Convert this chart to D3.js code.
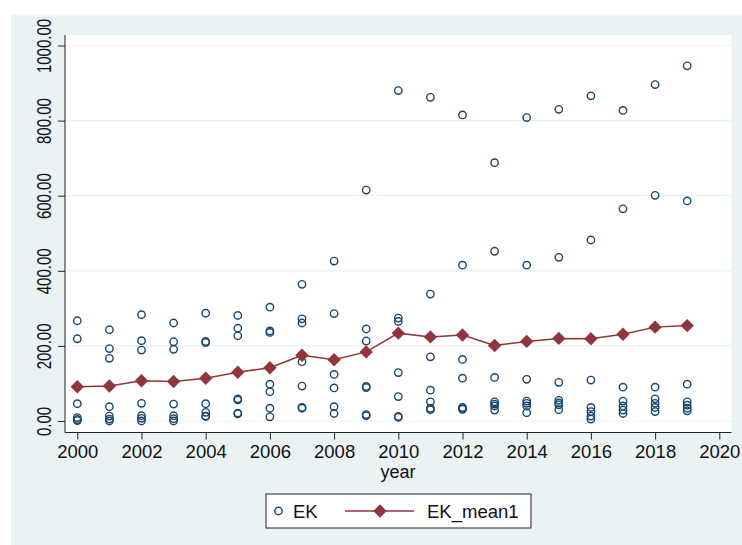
<!DOCTYPE html>
<html lang="en">
<head>
    <meta charset="UTF-8">
    <title>EK by year</title>
    <script src="https://d3js.org/d3.v7.min.js"></script>
    <style>
        body { margin: 0; background: #fff; }
        text { font-family: "Liberation Sans", Arial, Helvetica, sans-serif; fill: #111; }
    </style>
</head>
<body>
<script>
    const width  = 742;
    const height = 545;

    const years = [2000, 2001, 2002, 2003, 2004, 2005, 2006, 2007, 2008, 2009,
                   2010, 2011, 2012, 2013, 2014, 2015, 2016, 2017, 2018, 2019];

    // EK observations, one list per year
    const ekByYear = [
        [267, 219, 46, 9, 4, 1],
        [243, 193, 167, 38, 13, 5, 0],
        [283, 214, 189, 47, 14, 7, 0],
        [261, 211, 191, 45, 14, 6, 0],
        [287, 212, 209, 46, 23, 12, 13],
        [281, 247, 227, 59, 56, 21, 19],
        [303, 240, 236, 98, 78, 34, 11],
        [364, 272, 261, 158, 93, 36, 34],
        [426, 286, 124, 88, 38, 20],
        [615, 245, 213, 92, 89, 17, 14],
        [880, 274, 265, 129, 65, 12, 10],
        [862, 338, 171, 82, 51, 34, 30],
        [815, 415, 164, 114, 36, 33, 31],
        [688, 452, 116, 51, 45, 40, 29],
        [808, 415, 111, 53, 47, 40, 22],
        [830, 436, 103, 55, 48, 43, 30],
        [866, 482, 109, 36, 25, 13, 5],
        [827, 565, 90, 53, 40, 29, 20],
        [896, 601, 90, 59, 47, 36, 25],
        [946, 586, 98, 51, 42, 34, 27]
    ];

    const ekMean1 = [91, 93, 107, 105, 114, 130, 142, 175, 163, 184,
                     234, 224, 229, 201, 212, 220, 219, 231, 250, 254];

    const xTicks = d3.range(2000, 2021, 2);
    const yTicks = [0, 200, 400, 600, 800, 1000];

    const blue = "#1a476f";
    const red  = "#90353b";
    const bg   = "#eaf2f3";

    const plot = {left: 65, right: 731.5, top: 35, bottom: 432.5};

    const x = d3.scaleLinear().domain([2000, 2020]).range([77.3, 719.3]);
    const y = d3.scaleLinear().domain([0, 1000]).range([421, 45.5]);

    const svg = d3.select("body").append("svg").attr("width", width).attr("height", height);

    // graph region and plot region
    svg.append("rect").attr("x", 11).attr("y", 15)
       .attr("width", width - 11).attr("height", height - 15).attr("fill", bg);
    svg.append("rect").attr("x", plot.left).attr("y", plot.top)
       .attr("width", plot.right - plot.left).attr("height", plot.bottom - plot.top)
       .attr("fill", "#fff");

    // gridlines
    svg.append("g").selectAll("line").data(yTicks).join("line")
       .attr("x1", plot.left).attr("x2", plot.right)
       .attr("y1", d => y(d)).attr("y2", d => y(d))
       .attr("stroke", bg).attr("stroke-width", 1.2);

    // axes
    const xAxis = d3.axisBottom(x).tickValues(xTicks).tickFormat(d3.format("d"))
                    .tickSize(7).tickSizeOuter(0);
    const gx = svg.append("g").attr("transform", "translate(0," + plot.bottom + ")").call(xAxis);
    gx.select(".domain").remove();
    gx.selectAll(".tick line").attr("stroke", "#222");
    gx.selectAll(".tick text").attr("font-size", 18.5).attr("dy", null).attr("y", 25)
      .attr("font-family", null);

    const yAxis = d3.axisLeft(y).tickValues(yTicks).tickFormat(d3.format(".2f"))
                    .tickSize(7).tickSizeOuter(0);
    const gy = svg.append("g").attr("transform", "translate(" + plot.left + ",0)").call(yAxis);
    gy.select(".domain").remove();
    gy.selectAll(".tick line").attr("stroke", "#222");
    gy.selectAll(".tick text")
      .attr("x", null).attr("dy", null).attr("font-family", null)
      .attr("font-size", 20).attr("text-anchor", "middle")
      .attr("transform", "translate(-14,0) rotate(-90) scale(0.75,1)");

    svg.append("line").attr("x1", plot.left).attr("x2", plot.left)
       .attr("y1", plot.top).attr("y2", plot.bottom).attr("stroke", "#222");
    svg.append("line").attr("x1", plot.left).attr("x2", plot.right)
       .attr("y1", plot.bottom).attr("y2", plot.bottom).attr("stroke", "#222");

    svg.append("text").attr("x", 398).attr("y", 478).attr("text-anchor", "middle")
       .attr("font-size", 18).text("year");

    // EK scatter
    const points = years.flatMap((yr, i) => ekByYear[i].map(v => [yr, v]));
    svg.append("g").selectAll("circle").data(points).join("circle")
       .attr("cx", d => x(d[0])).attr("cy", d => y(d[1])).attr("r", 3.7)
       .attr("fill", "none").attr("stroke", blue).attr("stroke-width", 1.4);

    // EK_mean1 connected line
    const meanData = years.map((yr, i) => [yr, ekMean1[i]]);
    const line = d3.line().x(d => x(d[0])).y(d => y(d[1]));
    svg.append("path").attr("d", line(meanData))
       .attr("fill", "none").attr("stroke", red).attr("stroke-width", 1.5);

    const diamond = d3.symbol().type(d3.symbolSquare).size(90);
    svg.append("g").selectAll("path").data(meanData).join("path")
       .attr("d", diamond)
       .attr("transform", d => "translate(" + x(d[0]) + "," + y(d[1]) + ") rotate(45)")
       .attr("fill", red);

    // legend
    const lg = svg.append("g");
    lg.append("rect").attr("x", 266).attr("y", 494).attr("width", 265).attr("height", 34)
      .attr("fill", "#fff").attr("stroke", "#222").attr("stroke-width", 1);
    lg.append("circle").attr("cx", 278.5).attr("cy", 511).attr("r", 3.7)
      .attr("fill", "none").attr("stroke", blue).attr("stroke-width", 1.4);
    lg.append("text").attr("x", 293).attr("y", 518).attr("font-size", 18.5).text("EK");
    lg.append("line").attr("x1", 345).attr("x2", 414).attr("y1", 511).attr("y2", 511)
      .attr("stroke", red).attr("stroke-width", 1.5);
    lg.append("path").attr("d", diamond).attr("transform", "translate(380,511) rotate(45)")
      .attr("fill", red);
    lg.append("text").attr("x", 427).attr("y", 518).attr("font-size", 18.5).text("EK_mean1");
</script>
</body>
</html>
